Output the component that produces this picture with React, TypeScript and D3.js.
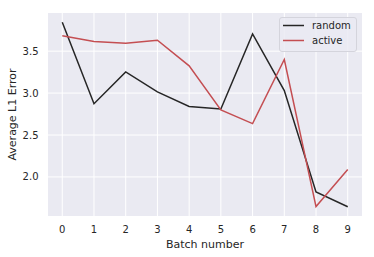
import React, { useEffect, useRef } from 'react';
import * as d3 from 'd3';

const batches = [0, 1, 2, 3, 4, 5, 6, 7, 8, 9];
const randomErr = [3.845, 2.873, 3.253, 3.015, 2.84, 2.81, 3.705, 3.03, 1.82, 1.644];
const activeErr = [3.685, 3.614, 3.595, 3.63, 3.325, 2.8, 2.636, 3.4, 1.646, 2.088];
const yTicks = [2.0, 2.5, 3.0, 3.5];
const seriesNames = ['random', 'active'];
const seriesColors = ['#262626', '#c44e52'];

const App: React.FC = () => {
  const svgRef = useRef<SVGSVGElement>(null);

  useEffect(() => {
    document.body.style.margin = '0';
    if (!svgRef.current) return;
    const svg = d3.select(svgRef.current);
    svg.selectAll('*').remove();

    const width = 374;
    const height = 257;
    const left = 48, right = 362, top = 13, bottom = 216;
    const font = '"DejaVu Sans", sans-serif';
    const textColor = '#262626';

    const xMin = d3.min(batches)!, xMax = d3.max(batches)!;
    const xPad = (xMax - xMin) * 0.05;
    const x = d3.scaleLinear().domain([xMin - xPad, xMax + xPad]).range([left, right]);

    const all = randomErr.concat(activeErr);
    const yLo = d3.min(all)!, yHi = d3.max(all)!;
    const yPad = (yHi - yLo) * 0.05;
    const y = d3.scaleLinear().domain([yLo - yPad, yHi + yPad]).range([bottom, top]);

    svg.attr('width', width).attr('height', height);

    // background
    svg.append('rect')
      .attr('x', left).attr('y', top)
      .attr('width', right - left).attr('height', bottom - top)
      .attr('fill', '#eaeaf2');

    // grid
    const grid = svg.append('g');
    batches.forEach(b => {
      grid.append('line')
        .attr('x1', x(b)).attr('x2', x(b))
        .attr('y1', top).attr('y2', bottom)
        .attr('stroke', '#ffffff').attr('stroke-width', 1);
    });
    yTicks.forEach(t => {
      grid.append('line')
        .attr('x1', left).attr('x2', right)
        .attr('y1', y(t)).attr('y2', y(t))
        .attr('stroke', '#ffffff').attr('stroke-width', 1);
    });

    // tick labels
    batches.forEach(b => {
      svg.append('text')
        .attr('x', x(b)).attr('y', 233)
        .attr('text-anchor', 'middle')
        .attr('fill', textColor)
        .attr('font-family', font).attr('font-size', '10px')
        .text(b);
    });
    yTicks.forEach(t => {
      svg.append('text')
        .attr('x', 38.5).attr('y', y(t))
        .attr('text-anchor', 'end')
        .attr('dominant-baseline', 'central')
        .attr('fill', textColor)
        .attr('font-family', font).attr('font-size', '10px')
        .text(t.toFixed(1));
    });

    // axis labels
    svg.append('text')
      .attr('x', (left + right) / 2).attr('y', 248)
      .attr('text-anchor', 'middle')
      .attr('fill', textColor)
      .attr('font-family', font).attr('font-size', '11px')
      .text('Batch number');
    svg.append('text')
      .attr('transform', `translate(16, ${(top + bottom) / 2}) rotate(-90)`)
      .attr('text-anchor', 'middle')
      .attr('fill', textColor)
      .attr('font-family', font).attr('font-size', '11px')
      .text('Average L1 Error');

    // lines
    const line = d3.line<number>()
      .x((_, i) => x(batches[i]))
      .y(d => y(d));
    [randomErr, activeErr].forEach((s, k) => {
      svg.append('path')
        .datum(s)
        .attr('d', line)
        .attr('fill', 'none')
        .attr('stroke', seriesColors[k])
        .attr('stroke-width', 1.5);
    });

    // legend
    const lg = svg.append('g');
    lg.append('rect')
      .attr('x', 279.5).attr('y', 17.5)
      .attr('width', 77).attr('height', 34)
      .attr('rx', 2.5)
      .attr('fill', '#eaeaf2').attr('fill-opacity', 0.8)
      .attr('stroke', '#d4d4dc').attr('stroke-width', 1);
    seriesNames.forEach((name, k) => {
      const ly = 25.5 + k * 15;
      lg.append('line')
        .attr('x1', 283).attr('x2', 304)
        .attr('y1', ly).attr('y2', ly)
        .attr('stroke', seriesColors[k]).attr('stroke-width', 1.5);
      lg.append('text')
        .attr('x', 312).attr('y', ly)
        .attr('dominant-baseline', 'central')
        .attr('fill', textColor)
        .attr('font-family', font).attr('font-size', '10px')
        .text(name);
    });
  }, []);

  return <svg ref={svgRef} style={{ display: 'block' }}></svg>;
};

export default App;
